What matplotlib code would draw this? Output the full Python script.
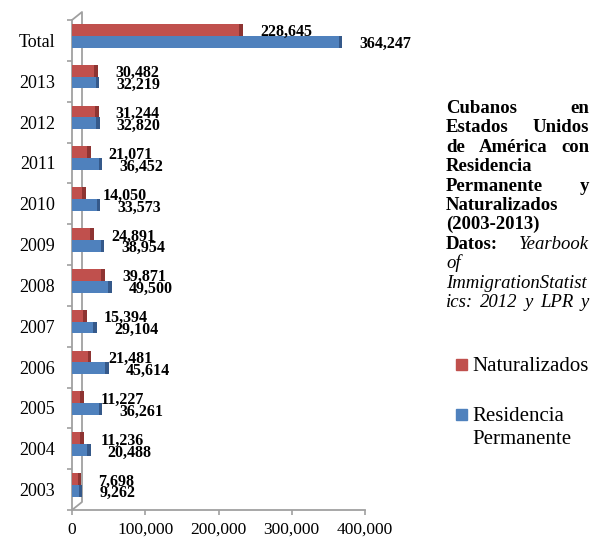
import numpy as np
import matplotlib
matplotlib.use("Agg")
import matplotlib.pyplot as plt
from matplotlib.patches import Rectangle

# Cubans in the USA: permanent residence vs naturalized, 2003-2013
categories = ["Total", "2013", "2012", "2011", "2010", "2009", "2008",
              "2007", "2006", "2005", "2004", "2003"]
naturalizados = [228645, 30482, 31244, 21071, 14050, 24891, 39871,
                 15394, 21481, 11227, 11236, 7698]
residencia = [364247, 32219, 32820, 36452, 33573, 38954, 49500,
              29104, 45614, 36261, 20488, 9262]
x_ticks = [0, 100000, 200000, 300000, 400000]
series_names = ["Naturalizados", "Residencia\nPermanente"]

SERIF = "Liberation Serif"
RED, RED_DARK = "#C0504D", "#8E3432"
BLUE, BLUE_DARK = "#4F81BD", "#35598A"
AXIS_GREY = "#A0A0A0"

W, H = 601, 540
fig = plt.figure(figsize=(W / 100, H / 100), dpi=100)
ax = fig.add_axes([72 / W, 30 / H, 293 / W, 490 / H])

y = np.arange(len(categories))
bar_h = 0.29
y_red = y - 0.26
y_blue = y + 0.03
depth = 5000  # darker end face giving the bars some depth

ax.barh(y_red, naturalizados, height=bar_h, color=RED, zorder=3)
ax.barh(y_blue, residencia, height=bar_h, color=BLUE, zorder=3)
ax.barh(y_red, depth, left=naturalizados, height=bar_h, color=RED_DARK, zorder=3)
ax.barh(y_blue, depth, left=residencia, height=bar_h, color=BLUE_DARK, zorder=3)

for yr, v in zip(y_red, naturalizados):
    ax.annotate(f"{v:,}", xy=(v, yr + 0.06), xytext=(15, 0), textcoords="offset points",
                ha="left", va="center", fontsize=11.5, fontweight="bold",
                family=SERIF, annotation_clip=False, zorder=4)
for yb, v in zip(y_blue, residencia):
    ax.annotate(f"{v:,}", xy=(v, yb + 0.06), xytext=(15, 0), textcoords="offset points",
                ha="left", va="center", fontsize=11.5, fontweight="bold",
                family=SERIF, annotation_clip=False, zorder=4)

ax.set_xlim(0, 400000)
ax.set_ylim(len(categories) - 0.5, -0.5)

ax.set_yticks(y)
ax.set_yticklabels(categories, fontsize=13, family=SERIF)
ax.set_yticks(np.arange(len(categories) + 1) - 0.5, minor=True)
ax.tick_params(axis="y", which="major", length=0, pad=12)
ax.tick_params(axis="y", which="minor", length=3.5, width=1.2, color=AXIS_GREY, direction="out")

ax.set_xticks(x_ticks)
ax.set_xticklabels([f"{t:,}" for t in x_ticks], fontsize=12.5, family=SERIF)
ax.tick_params(axis="x", length=3.5, width=1.2, color=AXIS_GREY, direction="out", pad=5)

for side in ("top", "right"):
    ax.spines[side].set_visible(False)
for side in ("left", "bottom"):
    ax.spines[side].set_color(AXIS_GREY)
    ax.spines[side].set_linewidth(1.3)

# back wall edge of the pseudo-3D frame
dx, dy = 10 / 293, 8 / 490
ax.plot([0, dx, dx, 0], [1, 1 + dy, dy, 0], transform=ax.transAxes,
        color=AXIS_GREY, lw=1.3, clip_on=False, zorder=2)

# side caption, set justified word by word
renderer = fig.canvas.get_renderer()
x0_px, x1_px = 446, 589
lines = [
    ([("Cubanos", "bold", "normal"), ("en", "bold", "normal")], True),
    ([("Estados", "bold", "normal"), ("Unidos", "bold", "normal")], True),
    ([("de", "bold", "normal"), ("América", "bold", "normal"), ("con", "bold", "normal")], True),
    ([("Residencia", "bold", "normal")], False),
    ([("Permanente", "bold", "normal"), ("y", "bold", "normal")], True),
    ([("Naturalizados", "bold", "normal")], False),
    ([("(2003-2013)", "bold", "normal")], False),
    ([("Datos:", "bold", "normal"), ("Yearbook", "normal", "italic")], True),
    ([("of", "normal", "italic")], False),
    ([("ImmigrationStatist", "normal", "italic")], False),
    ([("ics:", "normal", "italic"), ("2012", "normal", "italic"), ("y", "normal", "italic"),
      ("LPR", "normal", "italic"), ("y", "normal", "italic")], True),
]
base0, step = 113, 19.4
for i, (words, justify) in enumerate(lines):
    yb = 1 - (base0 + step * i) / H
    texts = [fig.text(0, yb, w, fontsize=13.5, fontweight=wt, fontstyle=st,
                      family=SERIF, ha="left", va="baseline")
             for w, wt, st in words]
    widths = [t.get_window_extent(renderer).width for t in texts]
    if justify and len(texts) > 1:
        gap = (x1_px - x0_px - sum(widths)) / (len(texts) - 1)
    else:
        gap = 4
    xp = x0_px
    for t, wd in zip(texts, widths):
        t.set_x(xp / W)
        xp += wd + gap

# legend: square swatch beside the first line of each series name
legend_rows = [(RED, series_names[0], 364), (BLUE, series_names[1], 414)]
for color, name, yc in legend_rows:
    fig.patches.append(Rectangle((456 / W, 1 - (yc + 5.5) / H), 11 / W, 11 / H,
                                 transform=fig.transFigure, color=color))
    for k, part in enumerate(name.split("\n")):
        fig.text(472 / W, 1 - (yc + 7 + 23 * k) / H, part, fontsize=15, family=SERIF,
                 ha="left", va="baseline")

fig.savefig("out.png", dpi=100)
